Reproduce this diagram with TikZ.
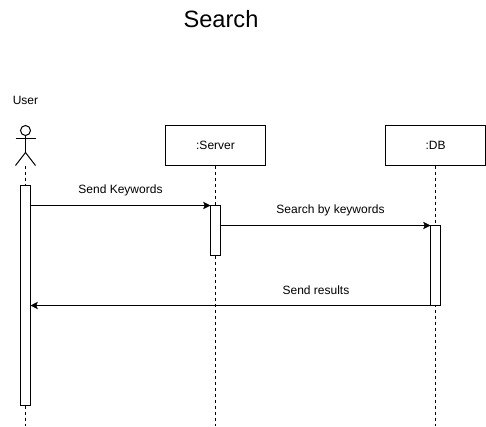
\documentclass[tikz,border=0pt]{standalone}
\usepackage{fontspec}
\setmainfont{Liberation Sans}
\usetikzlibrary{arrows.meta,positioning}
\tikzset{
  title/.style={font=\fontsize{17.7}{20}\selectfont, inner sep=0pt},
  lbl/.style={font=\fontsize{9}{11}\selectfont, inner sep=0pt},
  party/.style={rectangle, draw=black, fill=white, line width=0.75pt, outer sep=0pt,
    minimum width=75pt, minimum height=30pt, font=\fontsize{9}{11}\selectfont},
  bar/.style={rectangle, draw=black, fill=white, line width=0.75pt, outer sep=0pt, inner sep=0pt,
    minimum width=7.5pt},
  lifeline/.style={line width=0.75pt, draw=black, dash pattern=on 2.25pt off 2.25pt},
  msg/.style={-{Stealth[length=5.5pt, width=5.5pt, inset=1.2pt]}, line width=0.75pt, draw=black},
  limb/.style={line width=0.75pt, draw=black},
}
\begin{document}
\begin{tikzpicture}[x=0.75pt, y=-0.75pt]
  \useasboundingbox (0,0) rectangle (486,426);
  \node[title] (ttl) at (221,19) {Search};
  % user actor
  \node[lbl] (user) at (25.5,100.5) {User};
  \node[circle, draw=black, fill=white, line width=0.75pt, inner sep=0pt, outer sep=0pt,
    minimum size=7.5pt] (head) at (25.5,130.5) {};
  \coordinate (armL) at (15.5,138.5);
  \coordinate (armR) at (35.5,138.5);
  \coordinate (hip) at (25.5,152.5);
  \coordinate (footL) at (15.5,165.5);
  \coordinate (footR) at (35.5,165.5);
  \draw[limb] (head) -- (hip);
  \draw[limb] (armL) -- (armR);
  \draw[limb] (footL) -- (hip) -- (footR);
  % other parties
  \node[party] (server) at (215.5,145.5) {:Server};
  \node[party] (db) at (435.5,145.5) {:DB};
  % lifelines
  \coordinate (userend) at (25.5,426);
  \coordinate (serverend) at (215.5,426);
  \coordinate (dbend) at (435.5,426);
  \draw[lifeline] (footL -| hip) -- (userend);
  \foreach \p in {server,db}
    \draw[lifeline] (\p.south) -- (\p end);
  % activation bars
  \node[bar, minimum height=165pt] (userbar) at (25.5,295.5) {};
  \node[bar, minimum height=37.5pt] (serverbar) at (215.5,230.5) {};
  \node[bar, minimum height=60pt] (dbbar) at (435.5,265.5) {};
  % messages
  \draw[msg] (userbar.east |- serverbar.north) -- (serverbar.north west);
  \draw[msg] (serverbar.east |- dbbar.north) -- (dbbar.north west);
  \draw[msg] (dbbar.south west) -- (userbar.east |- dbbar.south);
  \node[lbl] (sendkw) at (120.5,190.5) {Send Keywords};
  \node[lbl] (searchkw) at (330.5,210.5) {Search by keywords};
  \node[lbl] (sendres) at (316,290.5) {Send results};
\end{tikzpicture}
\end{document}
